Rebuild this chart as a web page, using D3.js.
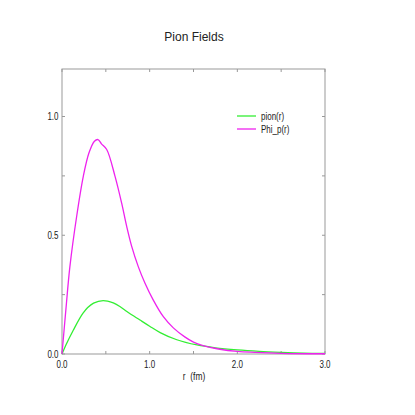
<!DOCTYPE html>
<html><head><meta charset="utf-8">
<script src="https://cdn.jsdelivr.net/npm/d3@7"></script>
<style>
html,body{margin:0;padding:0;background:#fff;}
text{font-family:"Liberation Sans",Arial,sans-serif;fill:#222;white-space:pre;}
</style></head>
<body>
<svg id="c" width="415" height="415"></svg>
<script>
const title = "Pion Fields";
const xLabel = "r  (fm)";
const seriesNames = ["pion(r)", "Phi_p(r)"];
const seriesColors = ["#33ee33", "#ee22ee"];
const xTicks = [0, 1, 2, 3];
const yTicks = [0, 0.5, 1.0];

const rPion = [0, 0.05, 0.13, 0.24, 0.36, 0.47, 0.52, 0.585, 0.66, 0.74, 0.89, 1.0, 1.12, 1.31, 1.54, 1.75, 2.0, 2.25, 2.5, 2.75, 3.0];
const pion  = [0, 0.042, 0.101, 0.172, 0.214, 0.225, 0.223, 0.215, 0.2, 0.179, 0.143, 0.117, 0.09, 0.06, 0.038, 0.026, 0.017, 0.011, 0.007, 0.004, 0.003];

const rPhi = [0, 0.045, 0.09, 0.167, 0.243, 0.308, 0.37, 0.41, 0.45, 0.51, 0.605, 0.68, 0.738, 0.795, 0.87, 0.947, 1.04, 1.156, 1.27, 1.4, 1.5, 1.6, 1.8, 2.0, 2.2, 2.5, 3.0];
const phi  = [0, 0.19, 0.368, 0.579, 0.748, 0.847, 0.896, 0.903, 0.885, 0.861, 0.748, 0.636, 0.537, 0.453, 0.368, 0.298, 0.228, 0.157, 0.11, 0.072, 0.05, 0.036, 0.02, 0.011, 0.007, 0.003, 0.001];

const svg = d3.select("#c");
const L = 62, R = 325, T = 69, B = 354;
const x = d3.scaleLinear().domain([0, 3]).range([L, R]);
const y = d3.scaleLinear().domain([0, 1.2]).range([B, T]);
const frame = "#999";
const SX = 0.8;

function label(px, py, str, size, anchor) {
  svg.append("text")
    .attr("transform", `translate(${px},${py}) scale(${SX},1)`)
    .attr("text-anchor", anchor || "start")
    .attr("font-size", size).text(str);
}

svg.append("rect").attr("x", L).attr("y", T).attr("width", R - L).attr("height", B - T)
  .attr("fill", "none").attr("stroke", frame).attr("stroke-width", 1);

const xt = d3.range(0, 3.01, 0.5);
const yt = d3.range(0, 1.201, 0.25);
const g = svg.append("g").attr("stroke", frame).attr("stroke-width", 1);
xt.forEach(v => {
  g.append("line").attr("x1", x(v)).attr("x2", x(v)).attr("y1", B).attr("y2", B - 3);
  g.append("line").attr("x1", x(v)).attr("x2", x(v)).attr("y1", T).attr("y2", T + 3);
});
yt.forEach(v => {
  g.append("line").attr("x1", L).attr("x2", L + 3).attr("y1", y(v)).attr("y2", y(v));
  g.append("line").attr("x1", R).attr("x2", R - 3).attr("y1", y(v)).attr("y2", y(v));
});

xTicks.forEach(d => label(x(d), 367.5, d3.format(".1f")(d), 10, "middle"));
yTicks.forEach(d => label(58.5, y(d) + 3.7, d3.format(".1f")(d), 10, "end"));

svg.append("text").attr("x", 194).attr("y", 41).attr("text-anchor", "middle")
  .attr("font-size", 12).text(title);
label(194, 380, xLabel, 10.5, "middle");

const curves = [d3.curveMonotoneX, d3.curveCatmullRom.alpha(0.5)];
const data = [d3.zip(rPion, pion), d3.zip(rPhi, phi)];
data.forEach((d, i) => {
  const line = d3.line().x(p => x(p[0])).y(p => y(p[1])).curve(curves[i]);
  svg.append("path").datum(d).attr("d", line).attr("fill", "none")
    .attr("stroke", seriesColors[i]).attr("stroke-width", 1.3);
});

seriesNames.forEach((n, i) => {
  const yy = 116 + i * 13;
  svg.append("line").attr("x1", 237).attr("x2", 256).attr("y1", yy).attr("y2", yy)
    .attr("stroke", seriesColors[i]).attr("stroke-width", 1.3);
  label(261, yy + 3.5, n, 10);
});
</script>
</body></html>
